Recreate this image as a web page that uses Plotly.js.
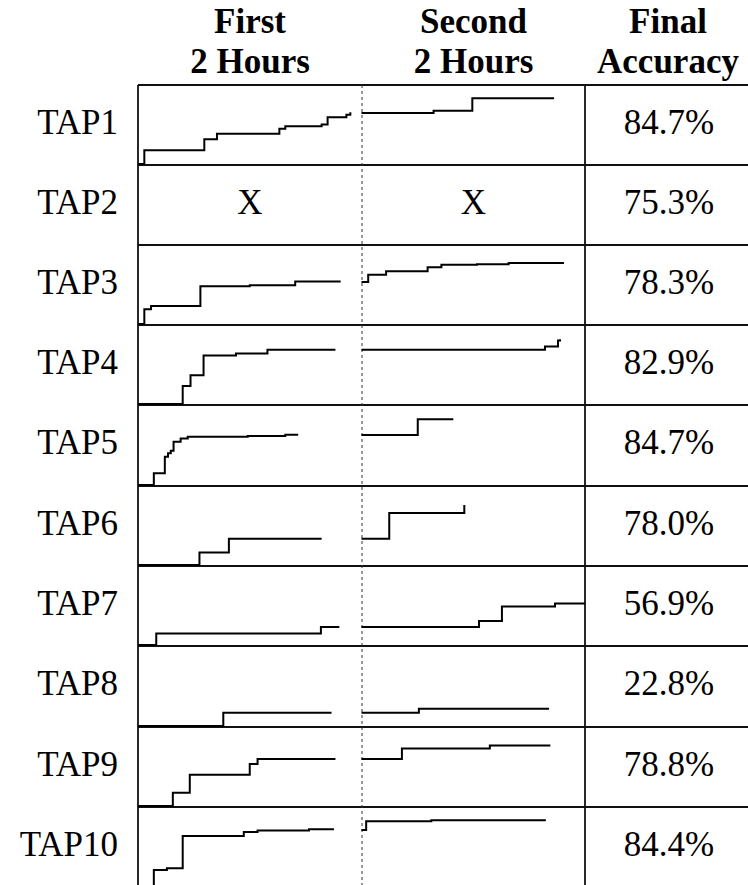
<!DOCTYPE html>
<html>
<head>
<meta charset="utf-8">
<script src="https://cdn.plot.ly/plotly-3.0.1.min.js"></script>
<style>html,body{margin:0;padding:0;background:#fff;}#chart{width:748px;height:885px;}</style>
</head>
<body>
<div id="chart"></div>
<script>
// ---- data (time in minutes, accuracy in %) ----
const tapNames = ["TAP1","TAP2","TAP3","TAP4","TAP5","TAP6","TAP7","TAP8","TAP9","TAP10"];
const finalAccuracy = [84.7, 75.3, 78.3, 82.9, 84.7, 78.0, 56.9, 22.8, 78.8, 84.4];
const headerCols = [["First","2 Hours"],["Second","2 Hours"],["Final","Accuracy"]];
const missingMark = "X";

const tap1FirstMin  = [0, 3.4, 35.6, 42.4, 75.9, 79.1, 98.6, 101.8, 111.9, 114];
const tap1FirstAcc  = [0, 17.5, 31.3, 38.3, 44.6, 47.9, 50.0, 59.2, 62.5, 65.4];
const tap1SecondMin = [120, 158.7, 179.5, 223.4];
const tap1SecondAcc = [64.6, 67.5, 83.3, 83.3];

const tap3FirstMin  = [0, 3.4, 7.0, 33.5, 60, 84.4, 108.8];
const tap3FirstAcc  = [0, 18.8, 22.9, 47.9, 49.2, 53.8, 53.8];
const tap3SecondMin = [120, 123.6, 133.2, 155.5, 162.9, 182, 199, 228.7];
const tap3SecondAcc = [53.3, 62.5, 66.7, 71.7, 75, 75.8, 77.1, 77.1];

const tap4FirstMin  = [0, 24, 28.2, 35.2, 52.6, 69.5, 106];
const tap4FirstAcc  = [0, 22.9, 36.3, 61.3, 63.8, 68.8, 68.8];
const tap4SecondMin = [120, 218.5, 225.5, 226.6];
const tap4SecondAcc = [68.8, 72.9, 80.4, 82];

const tap5FirstMin  = [0, 8.5, 14.4, 16.1, 17.6, 19.1, 22.9, 26.7, 58.9, 79.1, 86];
const tap5FirstAcc  = [0, 14.6, 35.4, 39.6, 42.9, 54.2, 58.3, 60.4, 61.3, 62.9, 62.9];
const tap5SecondMin = [120, 150.2, 169.3];
const tap5SecondAcc = [62.5, 82.1, 82.1];

const tap6FirstMin  = [0, 33, 48.8, 98.6];
const tap6FirstAcc  = [0, 15.8, 33.3, 33.3];
const tap6SecondMin = [120, 134.9, 175.2, 175.2];
const tap6SecondAcc = [33.3, 65.8, 65.8, 76];

const tap7FirstMin  = [0, 9.8, 98.2, 108.1];
const tap7FirstAcc  = [0, 14.6, 22.9, 22.9];
const tap7SecondMin = [120, 183.1, 195.4, 223.9, 240];
const tap7SecondAcc = [22.9, 30.4, 48.8, 52.5, 52.5];

const tap8FirstMin  = [0, 45.8, 103.9];
const tap8FirstAcc  = [0, 16.7, 16.7];
const tap8SecondMin = [120, 150.8, 220.7];
const tap8SecondAcc = [16.7, 21.7, 21.7];

const tap9FirstMin  = [0, 18.7, 27.8, 60, 64.2, 106];
const tap9FirstAcc  = [0, 16.7, 39.6, 53.3, 59.6, 59.6];
const tap9SecondMin = [120, 141.7, 188.9, 221.4];
const tap9SecondAcc = [59.6, 72.9, 76.7, 76.7];

const tap10FirstMin  = [0, 8.5, 15.5, 24, 56.8, 64.2, 91.8, 105.2];
const tap10FirstAcc  = [0, 20.4, 22.5, 63.3, 68.3, 70.4, 71.7, 71.7];
const tap10SecondMin = [120, 122.5, 157.5, 219];
const tap10SecondAcc = [70.8, 82, 83.3, 83.3];

const sessions = [
  [[tap1FirstMin, tap1FirstAcc], [tap1SecondMin, tap1SecondAcc]],
  null,
  [[tap3FirstMin, tap3FirstAcc], [tap3SecondMin, tap3SecondAcc]],
  [[tap4FirstMin, tap4FirstAcc], [tap4SecondMin, tap4SecondAcc]],
  [[tap5FirstMin, tap5FirstAcc], [tap5SecondMin, tap5SecondAcc]],
  [[tap6FirstMin, tap6FirstAcc], [tap6SecondMin, tap6SecondAcc]],
  [[tap7FirstMin, tap7FirstAcc], [tap7SecondMin, tap7SecondAcc]],
  [[tap8FirstMin, tap8FirstAcc], [tap8SecondMin, tap8SecondAcc]],
  [[tap9FirstMin, tap9FirstAcc], [tap9SecondMin, tap9SecondAcc]],
  [[tap10FirstMin, tap10FirstAcc], [tap10SecondMin, tap10SecondAcc]]
];

// ---- layout geometry (pixels) ----
const W = 748, H = 885;
const rowEdges = [85, 165, 245, 325, 405, 486, 566, 646, 727, 807, 887];
const xLeft = 138, xMid = 362, xSplit = 585;
const px = v => v / W;
const py = v => 1 - v / H;
const fontFam = "Liberation Serif";

const traces = [];
const layout = {
  width: W, height: H,
  margin: {l: 0, r: 0, t: 0, b: 0},
  paper_bgcolor: "#fff", plot_bgcolor: "rgba(0,0,0,0)",
  showlegend: false,
  shapes: []
};

// text overlay axes in pixel units (whole page)
layout.xaxis11 = {domain: [0, 1], range: [0, W], visible: false, fixedrange: true, anchor: "y11"};
layout.yaxis11 = {domain: [0, 1], range: [H, 0], visible: false, fixedrange: true, anchor: "x11"};

const labelX = [], labelY = [], labelT = [];
const centerX = [], centerY = [], centerT = [];
const headX = [], headY = [], headT = [];

tapNames.forEach((name, i) => {
  const top = rowEdges[i], bot = rowEdges[i + 1];
  const visBot = Math.min(bot, H);
  const low = (bot - visBot) / (bot - top) * 100 - 1.2;
  const n = i + 1;
  const sfx = n === 1 ? "" : String(n);
  layout["xaxis" + sfx] = {domain: [px(xLeft), px(xSplit)], range: [0, 240], visible: false, fixedrange: true, anchor: "y" + sfx};
  layout["yaxis" + sfx] = {domain: [Math.max(0, py(visBot)), py(top)], range: [low, 100], visible: false, fixedrange: true, anchor: "x" + sfx};
  const s = sessions[i];
  const yc = (top + bot) / 2;
  if (s) {
    s.forEach(([t, a]) => {
      traces.push({
        type: "scatter", mode: "lines", x: t, y: a,
        xaxis: "x" + sfx, yaxis: "y" + sfx,
        line: {shape: "hv", color: "#000", width: 2},
        hoverinfo: "skip"
      });
    });
  } else {
    centerX.push((xLeft + xMid) / 2, (xMid + xSplit) / 2);
    centerY.push(yc, yc);
    centerT.push(missingMark, missingMark);
  }
  labelX.push(118); labelY.push(yc); labelT.push(name);
  centerX.push(669); centerY.push(yc); centerT.push(finalAccuracy[i].toFixed(1) + "%");
});

const headerCenters = [(xLeft + xMid) / 2, (xMid + xSplit) / 2, 668];
headerCols.forEach((lines, c) => {
  headX.push(headerCenters[c], headerCenters[c]);
  headY.push(24, 64);
  headT.push(lines[0], lines[1]);
});

const textBase = {type: "scatter", mode: "text", xaxis: "x11", yaxis: "y11", cliponaxis: false, hoverinfo: "skip"};
traces.push(Object.assign({}, textBase, {x: labelX, y: labelY, text: labelT, textposition: "middle left",
  textfont: {family: fontFam, size: 35, color: "#000"}}));
traces.push(Object.assign({}, textBase, {x: centerX, y: centerY, text: centerT, textposition: "middle center",
  textfont: {family: fontFam, size: 35, color: "#000"}}));
traces.push(Object.assign({}, textBase, {x: headX, y: headY, text: headT, textposition: "middle center",
  textfont: {family: fontFam, size: 35, color: "#000", weight: "bold"}}));

// grid
const gridLine = {color: "#111", width: 1.8};
rowEdges.slice(0, 10).forEach(y => {
  layout.shapes.push({type: "line", xref: "paper", yref: "paper", x0: px(xLeft), x1: 1, y0: py(y), y1: py(y), line: gridLine, layer: "below"});
});
layout.shapes.push({type: "line", xref: "paper", yref: "paper", x0: px(xLeft), x1: px(xLeft), y0: py(85), y1: 0, line: gridLine, layer: "below"});
layout.shapes.push({type: "line", xref: "paper", yref: "paper", x0: px(xSplit), x1: px(xSplit), y0: py(85), y1: 0, line: gridLine, layer: "below"});
layout.shapes.push({type: "line", xref: "paper", yref: "paper", x0: px(xMid), x1: px(xMid), y0: py(85), y1: 0, line: {color: "#333", width: 1, dash: "dot"}, layer: "below"});

Plotly.newPlot("chart", traces, layout, {staticPlot: true});
</script>
</body>
</html>
